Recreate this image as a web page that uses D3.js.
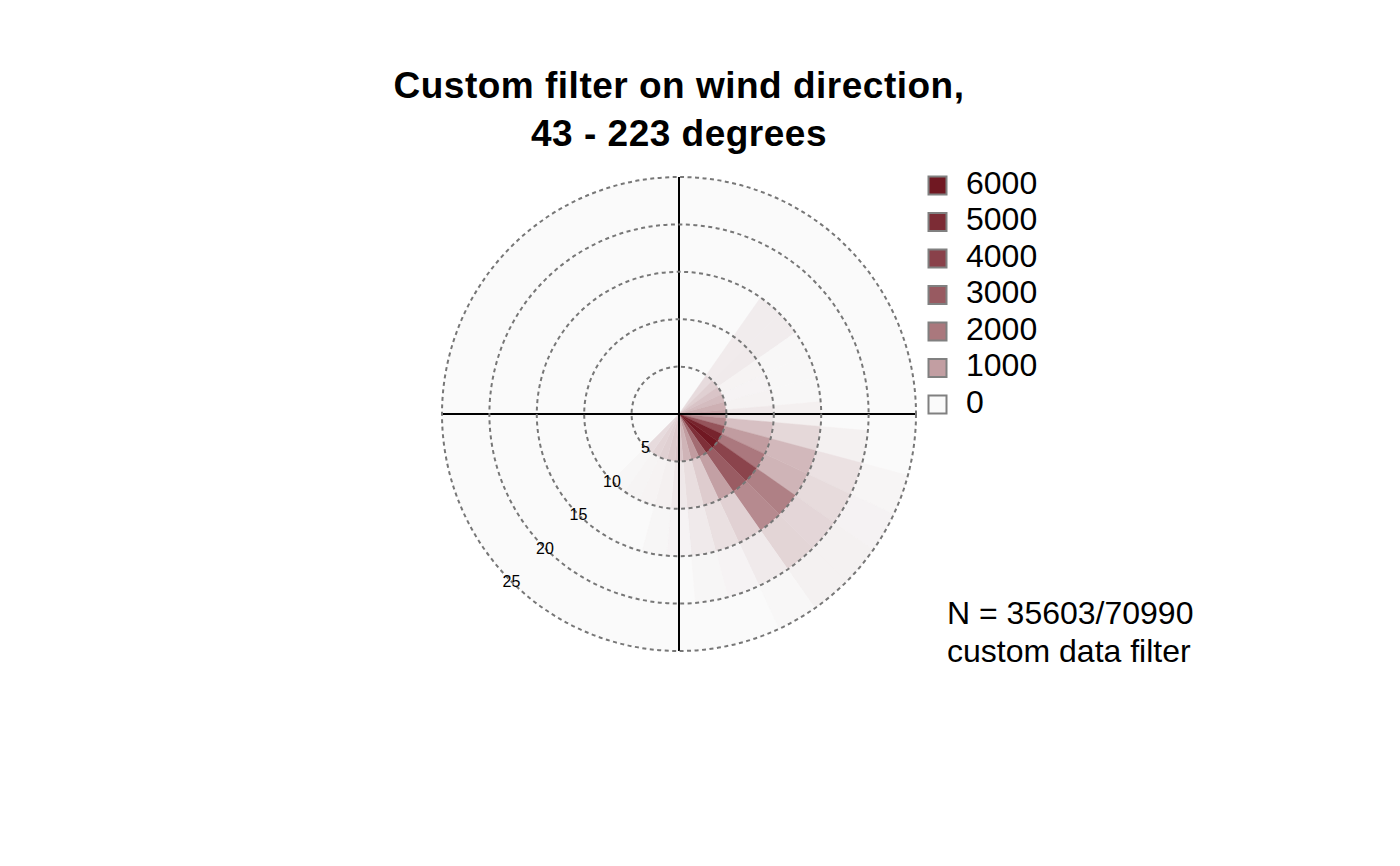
<!DOCTYPE html>
<html>
<head>
<meta charset="utf-8">
<script src="https://cdn.jsdelivr.net/npm/d3@7"></script>
<style>
  html, body { margin: 0; padding: 0; background: #ffffff; }
  svg { display: block; font-family: "Liberation Sans", Arial, Helvetica, sans-serif; }
</style>
</head>
<body>
<svg id="chart" width="1400" height="866"></svg>
<script>
// ---- data ----
const titleLines = ["Custom filter on wind direction,", "43 - 223 degrees"];
const directions = [40, 50, 60, 70, 80, 90, 100, 110, 120, 130, 140, 150, 160, 170, 180, 190, 200, 210, 220];
const speedBins = [0, 5, 10, 15, 20];            // lower edge of each wind speed bin
const speedBinWidth = 5;
const dirBinWidth = 10;
// counts per direction for each wind-speed bin
const counts_0_5   = [110, 210, 340, 450, 640, 870, 1530, 3240, 5380, 6240, 4790, 2370, 1040, 580, 340, 270, 210, 170, 110];
const counts_5_10  = [25, 30, 6, 5, 8, 38, 395, 1040, 1980, 3890, 2930, 950, 250, 92, 38, 12, 6, 4, 2];
const counts_10_15 = [23, 23, 1, 1, 1, 12, 136, 510, 580, 1750, 1470, 200, 80, 30, 5, 2, 0, 0, 0];
const counts_15_20 = [0, 0, 0, 0, 0, 0, 10, 75, 115, 150, 165, 30, 5, 2, 0, 0, 0, 0, 0];
const counts_20_25 = [0, 0, 0, 0, 0, 0, 0, 3, 7, 10, 10, 1, 0, 0, 0, 0, 0, 0, 0];
const countSeries = [counts_0_5, counts_5_10, counts_10_15, counts_15_20, counts_20_25];
const radialTicks = [5, 10, 15, 20, 25];
const legendValues = [6000, 5000, 4000, 3000, 2000, 1000, 0];
const noteLines = ["N = 35603/70990", "custom data filter"];

// ---- layout ----
const cx = 679, cy = 414, R = 237;
const svg = d3.select("#chart");

const rScale = d3.scaleLinear().domain([0, 25]).range([0, R]);
const colorScale = d3.scaleSequentialSqrt(d3.interpolateRgb("#FAFAFA", "#701822"))
  .domain([0, 6000]).clamp(true);
const toRad = d => d * Math.PI / 180;

const g = svg.append("g").attr("transform", `translate(${cx},${cy})`);

// background disc (zero-frequency colour)
g.append("circle").attr("r", rScale(25)).attr("fill", colorScale(0));

// cells
const cells = [];
speedBins.forEach((ws, i) => {
  directions.forEach((wd, j) => {
    cells.push({ ws, wd, n: countSeries[i][j] });
  });
});
const arc = d3.arc()
  .innerRadius(d => rScale(d.ws))
  .outerRadius(d => rScale(d.ws + speedBinWidth))
  .startAngle(d => toRad(d.wd - dirBinWidth / 2))
  .endAngle(d => toRad(d.wd + dirBinWidth / 2));
g.selectAll("path.cell").data(cells.filter(d => d.n > 0)).join("path")
  .attr("class", "cell")
  .attr("d", arc)
  .attr("fill", d => colorScale(d.n))
  .attr("stroke", d => colorScale(d.n))
  .attr("stroke-width", 0.4);

// axes cross
g.append("line").attr("x1", 0).attr("x2", 0).attr("y1", -rScale(25)).attr("y2", rScale(25))
  .attr("stroke", "#000").attr("stroke-width", 2);
g.append("line").attr("y1", 0).attr("y2", 0).attr("x1", -rScale(25)).attr("x2", rScale(25))
  .attr("stroke", "#000").attr("stroke-width", 2);

// dashed circles
g.selectAll("circle.grid").data(radialTicks).join("circle")
  .attr("class", "grid")
  .attr("r", d => rScale(d))
  .attr("fill", "none")
  .attr("stroke", "#777777")
  .attr("stroke-width", 2)
  .attr("stroke-dasharray", "4,3.5");

// radial labels at 225 degrees
const labAng = toRad(225);
g.selectAll("text.rlab").data(radialTicks).join("text")
  .attr("class", "rlab")
  .attr("x", d => rScale(d) * Math.sin(labAng))
  .attr("y", d => -rScale(d) * Math.cos(labAng))
  .attr("text-anchor", "middle")
  .attr("dominant-baseline", "central")
  .attr("font-size", 16)
  .attr("fill", "#000")
  .text(d => d);

// title
svg.selectAll("text.title").data(titleLines).join("text")
  .attr("class", "title")
  .attr("x", 679)
  .attr("y", (d, i) => 98 + i * 48)
  .attr("text-anchor", "middle")
  .attr("font-size", 37)
  .attr("font-weight", "bold")
  .style("letter-spacing", "0.5px")
  .attr("fill", "#000")
  .text(d => d);

// legend
const legY = d3.scalePoint().domain(legendValues).range([185.5, 404.5]);
const leg = svg.append("g");
leg.selectAll("rect").data(legendValues).join("rect")
  .attr("x", 928.5).attr("y", d => legY(d) - 9)
  .attr("width", 18).attr("height", 18)
  .attr("fill", d => colorScale(d))
  .attr("stroke", "#808080").attr("stroke-width", 2);
leg.selectAll("text").data(legendValues).join("text")
  .attr("x", 966).attr("y", d => legY(d) + 8)
  .attr("font-size", 32)
  .attr("fill", "#000")
  .text(d => d);

// note
svg.selectAll("text.note").data(noteLines).join("text")
  .attr("class", "note")
  .attr("x", 947)
  .attr("y", (d, i) => 624 + i * 38)
  .attr("font-size", 32)
  .attr("fill", "#000")
  .text(d => d);
</script>
</body>
</html>
